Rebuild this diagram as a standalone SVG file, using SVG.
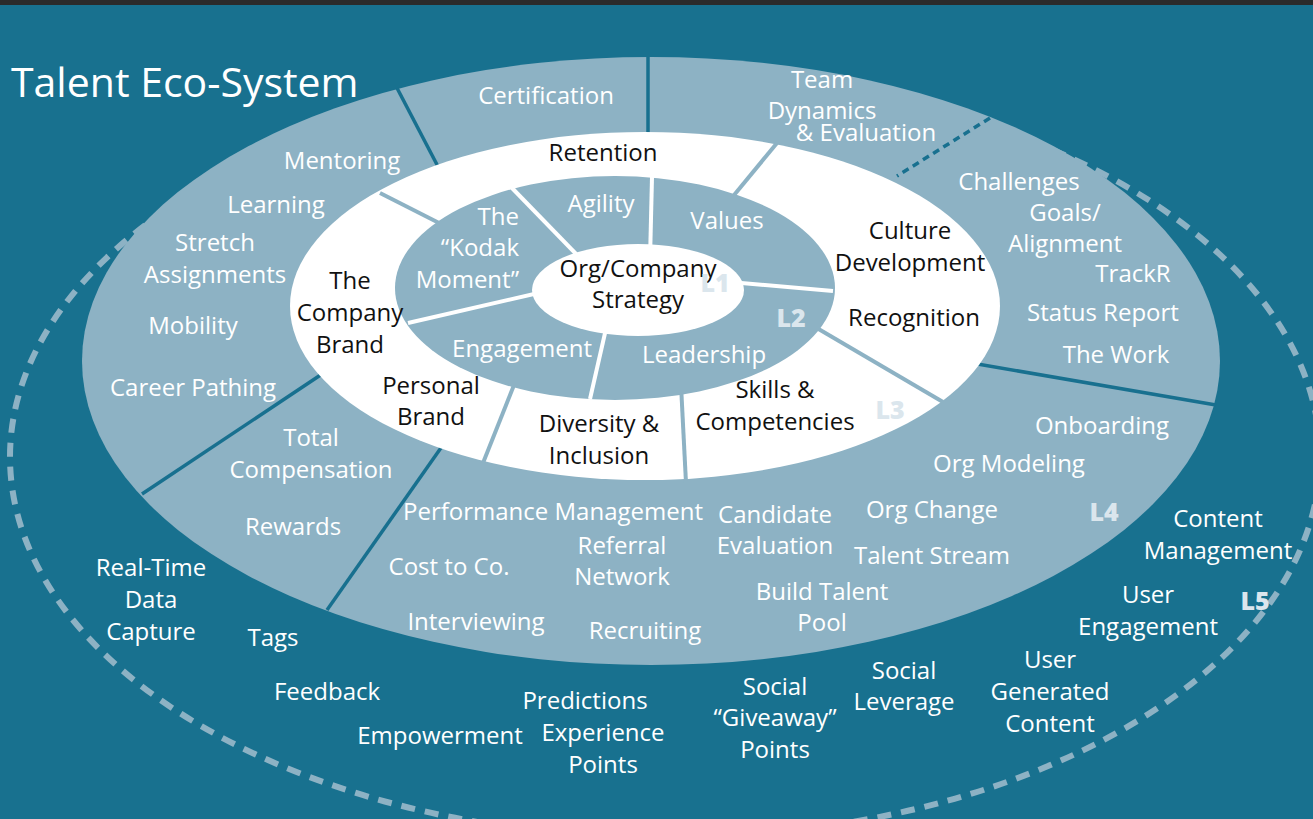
<svg xmlns="http://www.w3.org/2000/svg" width="1313" height="819" viewBox="0 0 1313 819">
<style>
text{font-family:"Open Sans","Liberation Sans",sans-serif;font-size:24px;text-anchor:middle}
.w{fill:#ffffff}
.k{fill:#111111}
.lv{font-weight:800;font-size:25px;fill:#dbe6ed}
.d4{stroke:#18708f;stroke-width:3.5;fill:none}
.d3{stroke:#8db2c4;stroke-width:4;fill:none}
.d2{stroke:#ffffff;stroke-width:4;fill:none}
</style>
<rect width="1313" height="819" fill="#18718f"/>
<rect width="1313" height="5" fill="#2b2b2b"/>
<g id="title"><text x="11" y="97" class="w" style="text-anchor:start;font-size:41px">Talent Eco-System</text></g>

<g id="L5-ring">
<ellipse cx="665" cy="457" rx="655" ry="381" fill="none" stroke="#8db2c4" stroke-width="6" stroke-dasharray="14 10"/>
</g>
<g id="L4-ring">
<ellipse cx="651" cy="361" rx="569" ry="304" fill="#8db2c4"/>
</g>
<g id="connectors-L4">
<line class="d4" x1="397" y1="88" x2="445" y2="180"/>
<line class="d4" x1="648" y1="57" x2="648" y2="145"/>
<line class="d4" x1="990" y1="118" x2="897" y2="176" stroke-dasharray="7 5"/>
<line class="d4" x1="1216" y1="405" x2="960" y2="361"/>
<line class="d4" x1="142" y1="494" x2="340" y2="362"/>
<line class="d4" x1="327" y1="610" x2="450" y2="435"/>
</g>
<g id="L3-ring">
<ellipse cx="645" cy="306" rx="355" ry="174" fill="#ffffff"/>
</g>
<g id="connectors-L3">
<line class="d3" x1="380" y1="193" x2="445" y2="226"/>
<line class="d3" x1="777" y1="143" x2="730" y2="200"/>
<line class="d3" x1="943" y1="402" x2="810" y2="324"/>
<line class="d3" x1="686" y1="483" x2="681" y2="385"/>
<line class="d3" x1="483" y1="463" x2="518" y2="375"/>
</g>
<g id="L2-ring">
<ellipse cx="615" cy="288" rx="220" ry="112" fill="#8db2c4"/>
</g>
<g id="connectors-L2">
<line class="d2" x1="512" y1="188" x2="578" y2="256"/>
<line class="d2" x1="652" y1="177" x2="650" y2="260"/>
<line class="d2" x1="833" y1="291" x2="730" y2="282"/>
<line class="d2" x1="608" y1="320" x2="590" y2="399"/>
<line class="d2" x1="408" y1="323" x2="560" y2="288"/>
</g>
<g id="L1-core">
<ellipse cx="638" cy="290" rx="106" ry="46" fill="#ffffff"/>
<text class="k" x="638" y="277">Org/Company</text>
<text class="k" x="638" y="308">Strategy</text>
</g>

<g id="levels">
<text class="lv" x="715" y="292">L1</text>
<text class="lv" x="791" y="327">L2</text>
<text class="lv" x="890" y="419">L3</text>
<text class="lv" x="1104" y="521">L4</text>
<text class="lv" x="1255" y="610">L5</text>
</g>

<g id="L2-labels" class="w">
<g id="kodak"><text x="519" y="225" style="text-anchor:end">The</text><text x="519" y="256" style="text-anchor:end">“Kodak</text><text x="519" y="288" style="text-anchor:end">Moment”</text></g>
<g id="agility"><text x="601" y="212">Agility</text></g>
<g id="values"><text x="727" y="229">Values</text></g>
<g id="leadership"><text x="704" y="363">Leadership</text></g>
<g id="engagement"><text x="522" y="357">Engagement</text></g>
</g>

<g id="L3-labels" class="k">
<g id="retention"><text x="603" y="161">Retention</text></g>
<g id="culture"><text x="910" y="239">Culture</text><text x="910" y="271">Development</text></g>
<g id="recognition"><text x="914" y="326">Recognition</text></g>
<g id="skills"><text x="775" y="398">Skills &amp;</text><text x="775" y="430">Competencies</text></g>
<g id="diversity"><text x="599" y="432">Diversity &amp;</text><text x="599" y="464">Inclusion</text></g>
<g id="personal-brand"><text x="431" y="394">Personal</text><text x="431" y="425">Brand</text></g>
<g id="company-brand"><text x="350" y="289">The</text><text x="350" y="321">Company</text><text x="350" y="353">Brand</text></g>
</g>

<g id="L4-labels" class="w">
<g id="certification"><text x="546" y="104">Certification</text></g>
<g id="team"><text x="822" y="88">Team</text><text x="822" y="119">Dynamics</text><text x="866" y="141">&amp; Evaluation</text></g>
<g id="mentoring"><text x="342" y="169">Mentoring</text></g>
<g id="learning"><text x="276" y="213">Learning</text></g>
<g id="stretch"><text x="215" y="251">Stretch</text><text x="215" y="283">Assignments</text></g>
<g id="mobility"><text x="193" y="334">Mobility</text></g>
<g id="career"><text x="193" y="396">Career Pathing</text></g>
<g id="total-comp"><text x="311" y="446">Total</text><text x="311" y="478">Compensation</text></g>
<g id="rewards"><text x="293" y="535">Rewards</text></g>
<g id="perf"><text x="553" y="520">Performance Management</text></g>
<g id="cost"><text x="449" y="575">Cost to Co.</text></g>
<g id="referral"><text x="622" y="554">Referral</text><text x="622" y="585">Network</text></g>
<g id="interviewing"><text x="476" y="630">Interviewing</text></g>
<g id="recruiting"><text x="645" y="639">Recruiting</text></g>
<g id="candidate"><text x="775" y="523">Candidate</text><text x="775" y="554">Evaluation</text></g>
<g id="build"><text x="822" y="600">Build Talent</text><text x="822" y="631">Pool</text></g>
<g id="org-change"><text x="932" y="518">Org Change</text></g>
<g id="talent-stream"><text x="932" y="564">Talent Stream</text></g>
<g id="org-modeling"><text x="1009" y="472">Org Modeling</text></g>
<g id="onboarding"><text x="1102" y="434">Onboarding</text></g>
<g id="challenges"><text x="1019" y="190">Challenges</text></g>
<g id="goals"><text x="1065" y="221">Goals/</text><text x="1065" y="252">Alignment</text></g>
<g id="trackr"><text x="1133" y="282">TrackR</text></g>
<g id="status"><text x="1103" y="321">Status Report</text></g>
<g id="work"><text x="1116" y="363">The Work</text></g>
</g>

<g id="L5-labels" class="w">
<g id="realtime"><text x="151" y="576">Real-Time</text><text x="151" y="608">Data</text><text x="151" y="640">Capture</text></g>
<g id="tags"><text x="273" y="646">Tags</text></g>
<g id="feedback"><text x="327" y="700">Feedback</text></g>
<g id="empowerment"><text x="440" y="744">Empowerment</text></g>
<g id="predictions"><text x="585" y="709">Predictions</text></g>
<g id="experience"><text x="603" y="741">Experience</text><text x="603" y="773">Points</text></g>
<g id="giveaway"><text x="775" y="695">Social</text><text x="775" y="726">“Giveaway”</text><text x="775" y="758">Points</text></g>
<g id="leverage"><text x="904" y="679">Social</text><text x="904" y="710">Leverage</text></g>
<g id="ugc"><text x="1050" y="668">User</text><text x="1050" y="700">Generated</text><text x="1050" y="732">Content</text></g>
<g id="user-eng"><text x="1148" y="603">User</text><text x="1148" y="635">Engagement</text></g>
<g id="content-mgmt"><text x="1218" y="527">Content</text><text x="1218" y="559">Management</text></g>
</g>
</svg>
